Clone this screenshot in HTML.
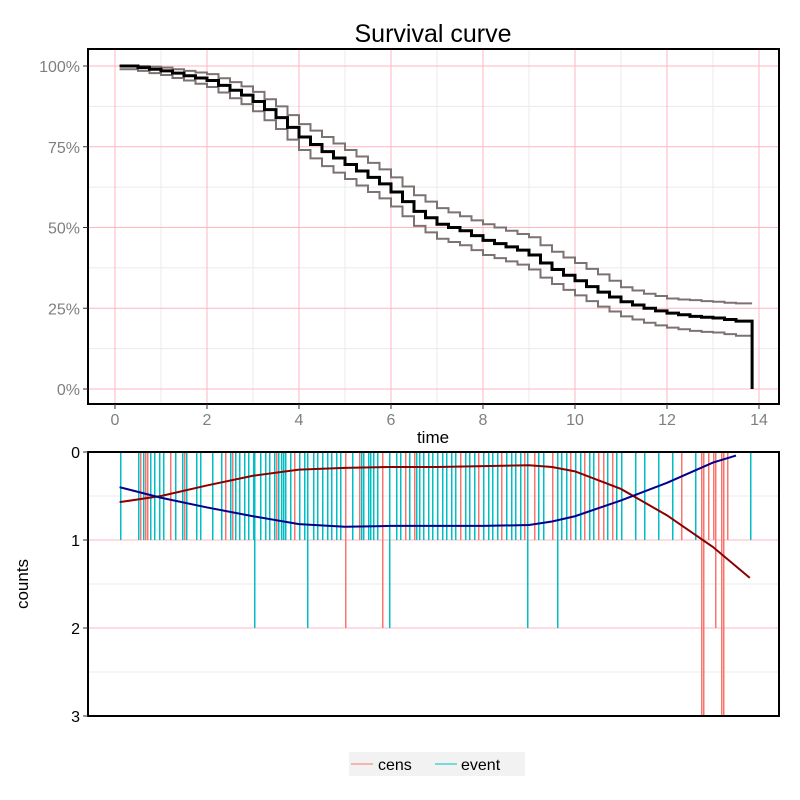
<!DOCTYPE html>
<html><head><meta charset="utf-8"><style>
body{margin:0;background:#fff;font-family:"Liberation Sans",sans-serif}
svg{display:block}
</style></head><body>
<svg id="c" width="800" height="800" xmlns="http://www.w3.org/2000/svg"></svg>
<script>
// ---- data ----
const survTimes=[0.1,0.25,0.5,0.75,1,1.25,1.5,1.75,2,2.25,2.5,2.75,3,3.25,3.5,3.75,4,4.25,4.5,4.75,5,5.25,5.5,5.75,6,6.25,6.5,6.75,7,7.25,7.5,7.75,8,8.25,8.5,8.75,9,9.25,9.5,9.75,10,10.25,10.5,10.75,11,11.25,11.5,11.75,12,12.25,12.5,12.75,13,13.25,13.5,13.85];
const survEst  =[1,1,.995,.99,.985,.978,.97,.963,.955,.94,.925,.91,.89,.865,.84,.81,.78,.757,.735,.715,.695,.675,.655,.635,.61,.58,.55,.53,.51,.50,.49,.475,.46,.45,.44,.43,.415,.39,.37,.352,.335,.317,.30,.285,.27,.26,.25,.242,.235,.23,.225,.222,.22,.215,.21,.21];
const survUpper=[1,1,1,.998,.995,.99,.985,.98,.975,.962,.95,.937,.92,.897,.875,.848,.82,.8,.78,.76,.74,.72,.70,.68,.655,.627,.6,.58,.56,.547,.535,.522,.51,.5,.49,.48,.47,.445,.425,.407,.39,.372,.355,.335,.315,.305,.295,.288,.28,.277,.275,.272,.27,.267,.265,.265];
const survLower=[.99,.99,.985,.978,.972,.963,.955,.945,.935,.918,.9,.882,.86,.832,.805,.772,.74,.714,.69,.67,.65,.63,.61,.59,.565,.535,.505,.485,.465,.455,.445,.43,.415,.405,.395,.385,.37,.345,.325,.307,.29,.272,.255,.24,.225,.215,.205,.197,.19,.185,.18,.177,.175,.17,.165,.165];
const xTicks=[0,2,4,6,8,10,12,14];
const yTickLabels=["0%","25%","50%","75%","100%"];
const eventTimes=[0.1,0.5,0.6,0.75,0.85,0.95,1.05,1.3,1.45,1.55,1.75,1.85,2.1,2.3,2.4,2.5,2.55,2.6,2.7,2.8,2.9,3.0,3.02,3.15,3.25,3.35,3.45,3.55,3.6,3.65,3.7,3.8,3.9,4.0,4.1,4.17,4.3,4.4,4.5,4.6,4.7,4.8,4.9,5.0,5.15,5.3,5.35,5.4,5.5,5.55,5.6,5.7,5.8,5.96,6.1,6.2,6.3,6.4,6.5,6.55,6.6,6.7,6.8,6.9,7.0,7.1,7.2,7.3,7.4,7.5,7.6,7.7,7.8,7.9,8.0,8.1,8.2,8.3,8.4,8.5,8.6,8.7,8.8,8.95,9.1,9.2,9.3,9.6,9.7,9.8,9.9,10.0,10.1,10.2,10.3,10.4,10.5,10.6,10.7,10.8,10.9,11.0,11.3,11.5,11.8,12.1,12.6,13.8];
const eventCounts=eventTimes.map(t=>[3.02,4.17,5.96,8.95,9.6].includes(t)?2:1);
const censTimes=[0.55,0.65,0.7,1.2,1.5,2.4,2.55,3.5,3.9,5.0,5.3,5.8,6.3,6.5,7.5,7.9,8.4,8.9,9.1,9.5,9.9,10.2,10.5,10.6,10.8,12.3,12.74,12.78,12.9,13.0,13.05,13.17,13.22,13.3];
const censCounts=[1,1,1,1,1,1,1,1,1,2,1,2,1,1,1,1,1,1,1,1,1,1,1,1,1,1,3,3,1,1,2,3,3,1];
const smoothTimes=[0.1,1,2,3,4,5,6,7,8,9,9.5,10,11,12,13,13.8];
const smoothRed=[0.57,0.5,0.38,0.27,0.2,0.18,0.17,0.17,0.16,0.15,0.17,0.22,0.42,0.72,1.08,1.43];
const smoothBlueT=[0.1,1,2,3,4,5,6,7,8,9,9.5,10,11,12,13,13.5];
const smoothBlue=[0.4,0.52,0.63,0.73,0.82,0.85,0.84,0.84,0.84,0.83,0.79,0.73,0.55,0.35,0.12,0.04];

const svg=document.getElementById('c');const NS="http://www.w3.org/2000/svg";
function el(tag,attrs,parent,text){const e=document.createElementNS(NS,tag);for(const k in attrs)e.setAttribute(k,attrs[k]);if(text!==undefined)e.textContent=text;(parent||svg).appendChild(e);return e;}
const X=t=>115+t*46;
const Y1=s=>389-s*323;
const Y2=c=>452+c*88;
const L=88,R=779;

let t=el('text',{x:433,y:42,'font-size':25,'text-anchor':'middle',fill:'#000'},svg,'Survival curve');



const g1=el('g',{});


for(let v=1;v<14;v+=2)el('line',{x1:X(v),x2:X(v),y1:49,y2:404,stroke:'#ebebeb'},g1);
for(let v=0.125;v<1.1;v+=0.25)el('line',{x1:L,x2:R,y1:Y1(v),y2:Y1(v),stroke:'#ebebeb'},g1);
xTicks.forEach(v=>el('line',{x1:X(v),x2:X(v),y1:49,y2:404,stroke:'#ffb6c1'},g1));
yTickLabels.forEach((lab,i)=>{el('line',{x1:L,x2:R,y1:Y1(i*0.25),y2:Y1(i*0.25),stroke:'#ffb6c1'},g1);});
function stepPath(ts,vs){let d=`M${X(ts[0])},${Y1(vs[0])}`;for(let i=1;i<ts.length;i++){d+=`H${X(ts[i])}V${Y1(vs[i])}`;}return d;}
let p=el('path',{d:stepPath(survTimes,survUpper),fill:'none',stroke:'#7d7272','stroke-width':2});

p=el('path',{d:stepPath(survTimes,survLower),fill:'none',stroke:'#7d7272','stroke-width':2});

p=el('path',{d:stepPath(survTimes,survEst)+`V${Y1(0)}`,fill:'none',stroke:'#000','stroke-width':3});

let b=el('rect',{x:L,y:49,width:R-L,height:355,fill:'none',stroke:'#000','stroke-width':2});

yTickLabels.forEach((lab,i)=>{el('line',{x1:83,x2:L,y1:Y1(i*0.25),y2:Y1(i*0.25),stroke:'#333'});
 const tx=el('text',{x:80,y:Y1(i*0.25)+6,'font-size':16,'text-anchor':'end',fill:'#7f7f7f'},svg,lab);
 });
xTicks.forEach(v=>{el('line',{x1:X(v),x2:X(v),y1:404,y2:409,stroke:'#333'});
 const tx=el('text',{x:X(v),y:425,'font-size':16,'text-anchor':'middle',fill:'#7f7f7f'},svg,String(v));
 });
t=el('text',{x:433,y:443,'font-size':17,'text-anchor':'middle',fill:'#000'},svg,'time');


const g2=el('g',{});

[0.5,1.5,2.5].forEach(v=>el('line',{x1:L,x2:R,y1:Y2(v),y2:Y2(v),stroke:'#ebebeb'},g2));
[1,2].forEach(v=>el('line',{x1:L,x2:R,y1:Y2(v),y2:Y2(v),stroke:'#ffb6c1'},g2));
eventTimes.forEach((tt,i)=>{const x=Math.round(X(tt))+0.5;const l=el('line',{x1:x,x2:x,y1:Y2(0),y2:Y2(eventCounts[i]),stroke:'#00bfc4','stroke-width':1.5,'shape-rendering':'crispEdges'});
 });
censTimes.forEach((tt,i)=>{const x=Math.round(X(tt))+0.5;const l=el('line',{x1:x,x2:x,y1:Y2(0),y2:Y2(censCounts[i]),stroke:'#f8766d','stroke-width':1.5,'shape-rendering':'crispEdges'});
 });
function smooth(ts,vs){return ts.map((tt,i)=>`${i?'L':'M'}${X(tt)},${Y2(vs[i])}`).join('');}
p=el('path',{d:smooth(smoothTimes,smoothRed),fill:'none',stroke:'#8b0000','stroke-width':2});

p=el('path',{d:smooth(smoothBlueT,smoothBlue),fill:'none',stroke:'#00008b','stroke-width':2});

b=el('rect',{x:L,y:452,width:R-L,height:264,fill:'none',stroke:'#000','stroke-width':2});

[0,1,2,3].forEach(v=>{el('line',{x1:83,x2:L,y1:Y2(v),y2:Y2(v),stroke:'#333'});
 const tx=el('text',{x:80,y:Y2(v)+6,'font-size':16,'text-anchor':'end',fill:'#000'},svg,String(v));
 });
t=el('text',{x:28,y:584,'font-size':17,'text-anchor':'middle',fill:'#000',transform:'rotate(-90 28 584)'},svg,'counts');


const lg=el('g',{});

let e=el('g',{},lg);
el('rect',{x:349,y:752,width:84,height:24,fill:'#f2f2f2'},e);
el('line',{x1:351,x2:373,y1:764,y2:764,stroke:'#f8766d'},e);
el('text',{x:378,y:770,'font-size':16,fill:'#000'},e,'cens');
e=el('g',{},lg);
el('rect',{x:433,y:752,width:92,height:24,fill:'#f2f2f2'},e);
el('line',{x1:435,x2:457,y1:764,y2:764,stroke:'#00bfc4'},e);
el('text',{x:461,y:770,'font-size':16,fill:'#000'},e,'event');
</script>
</body></html>
